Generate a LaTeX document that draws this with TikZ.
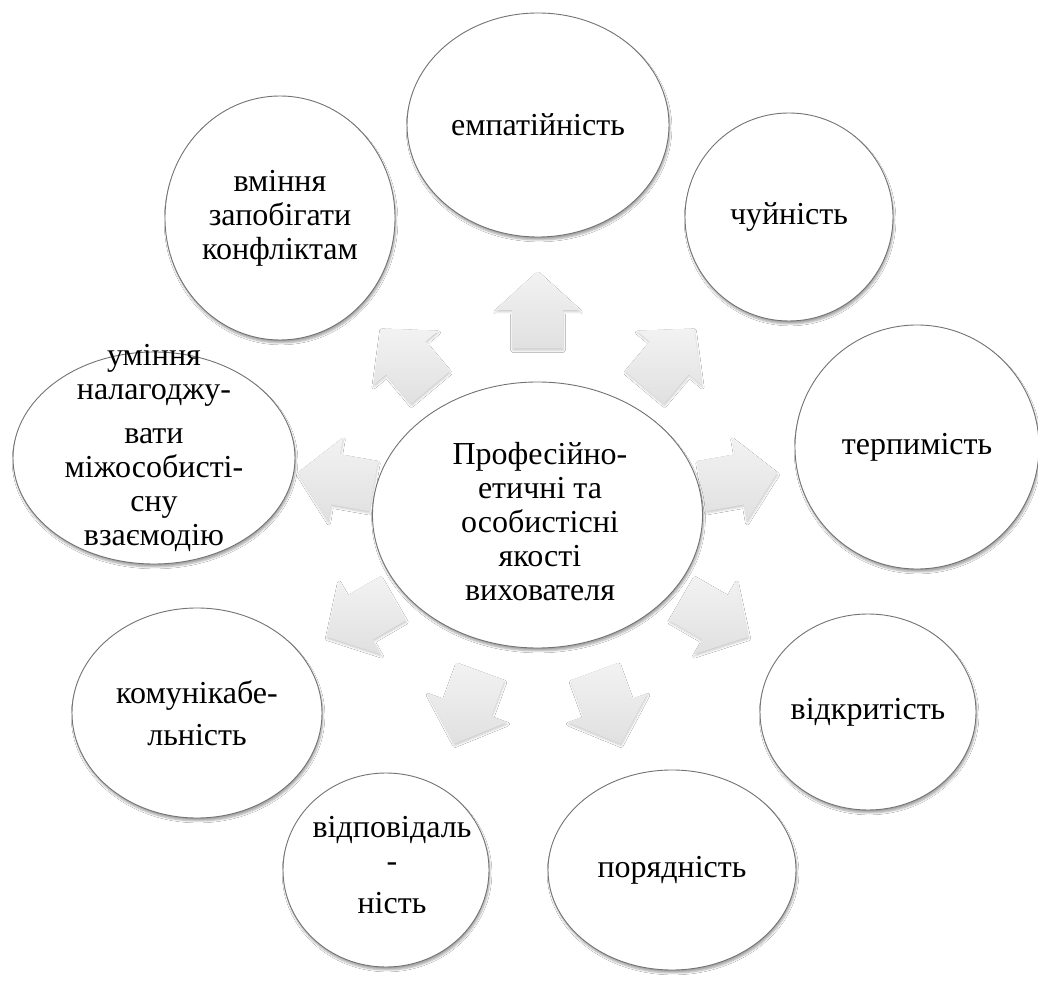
\documentclass[tikz,border=0pt]{standalone}
\usepackage{fontspec}
\setmainfont{Liberation Serif}
\usetikzlibrary{shapes.geometric,shadows.blur}
\tikzset{
  bubble/.style={ellipse, draw=black!55, line width=0.9pt, fill=white, inner sep=0pt,
    blur shadow={shadow xshift=1pt, shadow yshift=-3pt, shadow opacity=35, shadow blur steps=6}},
  txt/.style={align=center, inner sep=0pt, font=\rmfamily\fontsize{32}{34}\selectfont},
  blockarrow/.style={top color=black!5, bottom color=black!12, draw=none,
    blur shadow={shadow xshift=0.5pt, shadow yshift=-2pt, shadow opacity=20, shadow blur steps=4}}
}
\begin{document}
\begin{tikzpicture}[x=1pt,y=1pt]
\fill[white] (0,0) rectangle (1038,985);
\useasboundingbox (0,0) rectangle (1038,985);
\coordinate (ctr) at (537.5,470);
% radial arrows
\foreach \a in {90,50,10,-30,-70,-110,-150,170,130}{
  \begin{scope}[shift={(ctr)}, rotate=\a-90]
    \path[blockarrow] (-25.5,166.5) -- (25.5,166.5) -- (25.5,205) -- (42.5,205)
      -- (0,243.5) -- (-42.5,205) -- (-25.5,205) -- cycle;
  \end{scope}
}
% centre
\node[bubble, minimum width=330pt, minimum height=266pt] (center) at (ctr) {};
\node[txt] (tc) at (540,463) {Професійно-\\етичні та\\особистісні\\якості\\вихователя};
% outer circles
\node[bubble, minimum width=262pt, minimum height=224pt] (c1) at (538,860) {};
\node[txt] at (c1) {емпатійність};
\node[bubble, minimum width=208pt, minimum height=208pt] (c2) at (789,768) {};
\node[txt] at (c2) {чуйність};
\node[bubble, minimum width=244pt, minimum height=244pt] (c3) at (917,538) {};
\node[txt] at (c3) {терпимість};
\node[bubble, minimum width=216pt, minimum height=196pt] (c4) at (868,273) {};
\node[txt] at (c4) {відкритість};
\node[bubble, minimum width=248pt, minimum height=200pt] (c5) at (672,115) {};
\node[txt] at (c5) {порядність};
\node[bubble, minimum width=206pt, minimum height=194pt] (c6) at (386,115) {};
\node[txt] at (392,120) {відповідаль\\-\\[8pt]ність};
\node[bubble, minimum width=250pt, minimum height=210pt] (c7) at (197,272) {};
\node[txt] at (c7) {комунікабе-\\[8pt]льність};
\node[bubble, minimum width=282pt, minimum height=212pt] (c8) at (154,527) {};
\node[txt] at (154,537) {уміння\\налагоджу-\\[10pt]вати\\міжособисті-\\сну\\взаємодію};
\node[bubble, minimum width=230pt, minimum height=244pt] (c9) at (280,767) {};
\node[txt] at (c9) {вміння\\запобігати\\конфліктам};
\end{tikzpicture}
\end{document}
